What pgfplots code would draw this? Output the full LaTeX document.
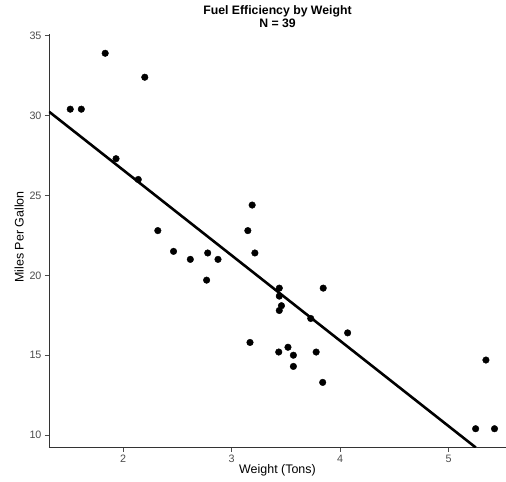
\documentclass[border=0pt]{standalone}
\usepackage{pgfplots}
\pgfplotsset{compat=1.18}
\usepackage{fontspec}
\setmainfont{Liberation Sans}
\definecolor{axgrey}{HTML}{333333}
\definecolor{tickgrey}{HTML}{4D4D4D}

\begin{document}
\begin{tikzpicture}
\useasboundingbox (-49bp,-34.3bp) rectangle (457bp,447.5bp);
\begin{axis}[
  at={(0,0)}, anchor=south west,
  scale only axis, width=457bp, height=413bp,
  xmin=1.317, xmax=5.53, ymin=9.225, ymax=35.075,
  axis lines*=left,
  axis line style={axgrey, line width=0.8pt},
  xtick={2,3,4,5}, ytick={10,15,20,25,30,35},
  tick align=outside, major tick length=4bp,
  tick style={tickgrey, line width=0.6pt},
  tick label style={font=\fontsize{10.8}{12}\selectfont, text=tickgrey},
  /pgf/number format/assume math mode=true,
  xlabel={Weight (Tons)}, ylabel={Miles Per Gallon},
  label style={font=\fontsize{12.5}{14}\selectfont},
  xlabel style={yshift=5bp}, ylabel style={yshift=-1bp, xshift=4bp},
  title={Fuel Efficiency by Weight\\N = 39},
  title style={font=\bfseries\fontsize{12.3}{13}\selectfont, align=center, yshift=-3bp},
  clip=true,
]
\addplot[black, line width=2.6pt] coordinates {(1.317,30.247)(5.251,9.225)};
\addplot[only marks, mark=*, mark size=3.3bp, black] coordinates {
(2.620,21.0)(2.875,21.0)(2.320,22.8)(3.215,21.4)(3.440,18.7)(3.460,18.1)
(3.570,14.3)(3.190,24.4)(3.150,22.8)(3.440,19.2)(3.440,17.8)(4.070,16.4)
(3.730,17.3)(3.780,15.2)(5.250,10.4)(5.424,10.4)(5.345,14.7)(2.200,32.4)
(1.615,30.4)(1.835,33.9)(2.465,21.5)(3.520,15.5)(3.435,15.2)(3.840,13.3)
(3.845,19.2)(1.935,27.3)(2.140,26.0)(1.513,30.4)(3.170,15.8)(2.770,19.7)
(3.570,15.0)(2.780,21.4)};
\end{axis}
\end{tikzpicture}
\end{document}
